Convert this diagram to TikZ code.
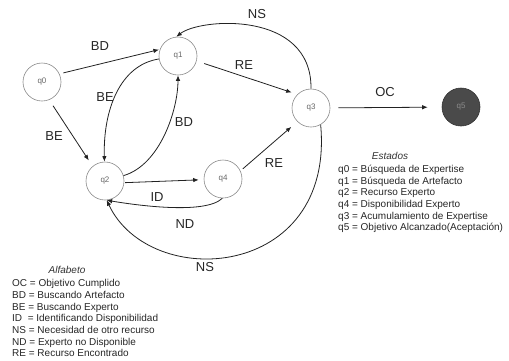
\documentclass[tikz,border=0pt]{standalone}
\usepackage{fontspec}
\setmainfont{Liberation Sans}
\usetikzlibrary{arrows.meta}

\definecolor{ink}{HTML}{222222}
\definecolor{rim}{HTML}{8A8A8A}
\definecolor{accept}{HTML}{4A4A4A}

\tikzset{
  state/.style={circle, draw=rim, line width=0.6pt, minimum size=38pt, inner sep=0pt,
    font=\fontsize{8}{9}\selectfont, text=black!60},
  final/.style={state, fill=accept, draw=black!80, text=black!45},
  trans/.style={draw=ink, line width=0.8pt, -{Latex[length=5.5pt,width=4.5pt]}},
  lbl/.style={inner sep=0.75pt, font=\fontsize{13}{15}\selectfont, text=black!85},
  legend/.style={inner sep=0pt, anchor=base west, font=\fontsize{10}{12}\selectfont, text=black!85},
  legendhead/.style={inner sep=0pt, anchor=base, font=\fontsize{10}{12}\selectfont\itshape, text=black!80},
}

\begin{document}
\begin{tikzpicture}[x=1pt,y=1pt,yscale=-1,xscale=1]
\useasboundingbox (0,0) rectangle (509,360);

%Shape: States
\draw (42,82) node [state] (q0) {q0};
\draw (178,56) node [state] (q1) {q1};
\draw (105,181) node [state] (q2) {q2};
\draw (223,179) node [state] (q4) {q4};
\draw (311,108) node [state] (q3) {q3};
\draw (461,107) node [final] (q5) {q5};

%Straight Lines
\draw [trans, shorten <=4pt, shorten >=1pt] (q0.25) -- (q1.160);
\draw [trans, shorten <=7pt, shorten >=7pt] (q0.-68) -- (q2.130);
\draw [trans, shorten <=8pt, shorten >=6pt] (q1.-15) -- (q3.135);
\draw [trans, shorten <=3pt, shorten >=8pt] (q4.25) -- (q3.225);
\draw [trans, shorten <=1pt, shorten >=5pt] (q2.-5) -- (q4.-178);
\draw [trans, shorten <=8pt, shorten >=14pt] (q3) -- (q5);

%Curve Lines
\draw [trans] (q1) .. controls (120,65) and (103,110) .. (q2);
\draw [trans] (q2) .. controls (160,165) and (178,110) .. (q1);
\draw [trans] (q4.-92) .. controls (205,215) and (135,205) .. (q2.-85);
\draw [trans] (q3.-60) .. controls (335,280) and (150,292) .. (q2.-85);
\draw [trans] (q3.north) .. controls (312,10) and (200,18) .. (q1.95);

% Text Node
\node [lbl] (bd1) at (100,46) {BD};
\node [lbl] (be1) at (54,136) {BE};
\node [lbl] (be2) at (105,97) {BE};
\node [lbl] (bd2) at (184,122) {BD};
\node [lbl] (re1) at (244,65) {RE};
\node [lbl] (ns1) at (257,14) {NS};
\node [lbl] (re2) at (274,163) {RE};
\node [lbl] (oc) at (385,92) {OC};
\node [lbl] (id) at (157,197) {ID};
\node [lbl] (nd) at (185,224) {ND};
\node [lbl] (ns2) at (205,267) {NS};

% Legend: Estados
\node [legendhead] (esthead) at (390,159.6) {Estados};
\foreach \txt [count=\i] in {q0 = Búsqueda de Expertise, q1 = Búsqueda de Artefacto,
    q2 = Recurso Experto, q4 = Disponibilidad Experto,
    q3 = Acumulamiento de Expertise, q5 = Objetivo Alcanzado(Aceptación)}
  \node [legend] (est\i) at (338,{172.6+11.6*(\i-1)}) {\txt};

% Legend: Alfabeto
\node [legendhead] (alfhead) at (67,273.6) {Alfabeto};
\foreach \txt [count=\i] in {OC = Objetivo Cumplido, BD = Buscando Artefacto,
    BE = Buscando Experto, ID~~= Identificando Disponibilidad,
    NS = Necesidad de otro recurso, ND = Experto no Disponible,
    RE = Recurso Encontrado}
  \node [legend] (alf\i) at (12,{286.6+11.7*(\i-1)}) {\txt};

\end{tikzpicture}
\end{document}
